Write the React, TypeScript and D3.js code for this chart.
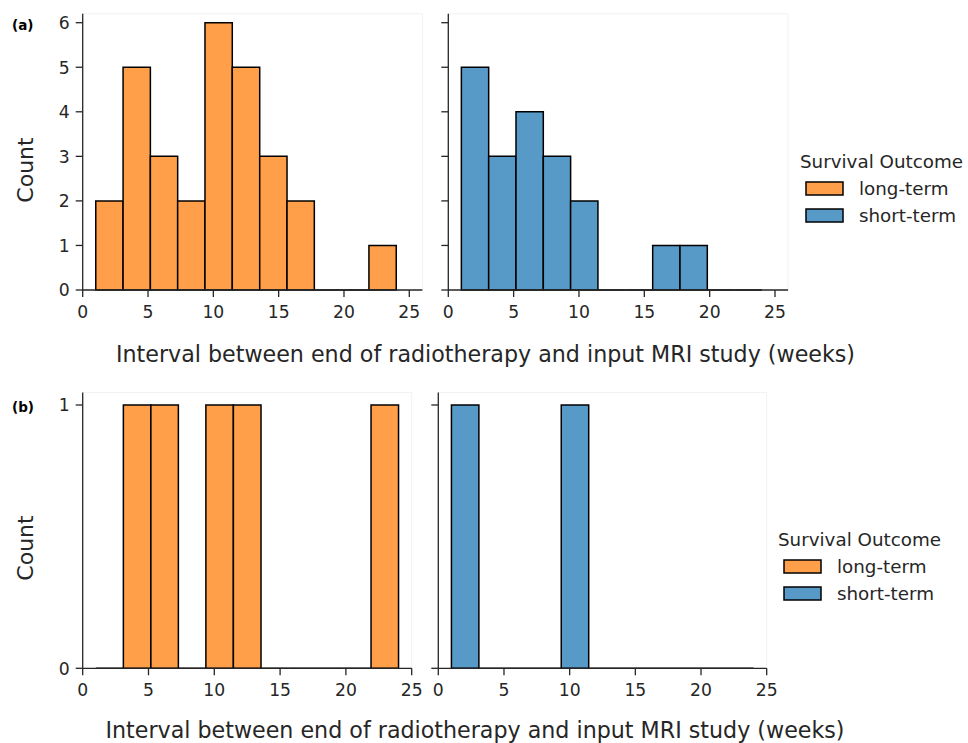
import React from "react";
import * as d3 from "d3";

const binEdges = [1, 3.09, 5.18, 7.27, 9.36, 11.45, 13.55, 15.64, 17.73, 19.82, 21.91, 24];
const countsALong = [2, 5, 3, 2, 6, 5, 3, 2, 0, 0, 1];
const countsAShort = [5, 3, 4, 3, 2, 0, 0, 1, 1, 0, 0];
const countsBLong = [0, 1, 1, 0, 1, 1, 0, 0, 0, 0, 1];
const countsBShort = [1, 0, 0, 0, 1, 0, 0, 0, 0, 0, 0];
const xTicks = [0, 5, 10, 15, 20, 25];
const yTicksA = [0, 1, 2, 3, 4, 5, 6];
const yTicksB = [0, 1];
const seriesNames = ["long-term", "short-term"];
const seriesColors = ["#FF9F4A", "#5799C7"];
const xLabel = "Interval between end of radiotherapy and input MRI study (weeks)";

const FONT = "DejaVu Sans, sans-serif";
const TXT = "#262626";

type PanelProps = {
  counts: number[];
  color: string;
  x0: number;
  x25: number;
  xMax: number;
  y0: number;
  yTopVal: number;
  yTopPx: number;
  yDomMax: number;
  yTicks: number[];
  showYLabels: boolean;
};

function Panel(p: PanelProps) {
  const x = d3.scaleLinear().domain([0, 25]).range([p.x0, p.x25]);
  const y = d3.scaleLinear().domain([0, p.yTopVal]).range([p.y0, p.yTopPx]);
  const spineTop = y(p.yDomMax);
  const spineRight = x(p.xMax);
  return (
    <g>
      <rect x={p.x0} y={spineTop} width={spineRight - p.x0} height={p.y0 - spineTop} fill="none" stroke="#f2f2f2" strokeWidth={1} />
      {p.counts.map((c, i) => {
        const xa = x(binEdges[i]);
        const xb = x(binEdges[i + 1]);
        const yt = y(c);
        return (
          <path key={i} d={`M${xa},${p.y0}V${yt}H${xb}V${p.y0}Z`} fill={p.color} stroke="#000" strokeWidth={1.5} strokeLinejoin="miter" />
        );
      })}
      <line x1={p.x0} x2={p.x0} y1={spineTop} y2={p.y0} stroke={TXT} strokeWidth={1.3} />
      <line x1={p.x0} x2={spineRight} y1={p.y0} y2={p.y0} stroke={TXT} strokeWidth={1.3} />
      {xTicks.map((t) => (
        <g key={"x" + t}>
          <line x1={x(t)} x2={x(t)} y1={p.y0} y2={p.y0 + 7} stroke={TXT} strokeWidth={1.3} />
          <text x={x(t)} y={p.y0 + 27.7} textAnchor="middle" fontSize={17.2} fill={TXT} fontFamily={FONT}>{t}</text>
        </g>
      ))}
      {p.yTicks.map((t) => (
        <g key={"y" + t}>
          <line x1={p.x0 - 7} x2={p.x0} y1={y(t)} y2={y(t)} stroke={TXT} strokeWidth={1.3} />
          {p.showYLabels && (
            <text x={p.x0 - 13} y={y(t) + 6.3} textAnchor="end" fontSize={17.2} fill={TXT} fontFamily={FONT}>{t}</text>
          )}
        </g>
      ))}
    </g>
  );
}

function Legend({ x, y }: { x: number; y: number }) {
  return (
    <g fontFamily={FONT} fill={TXT}>
      <text x={x} y={y} fontSize={18.3}>Survival Outcome</text>
      {seriesNames.map((n, i) => (
        <g key={n}>
          <rect x={x + 6} y={y + 14 + i * 27} width={37} height={13} fill={seriesColors[i]} stroke="#000" strokeWidth={1.5} />
          <text x={x + 59} y={y + 26.5 + i * 27} fontSize={18.3}>{n}</text>
        </g>
      ))}
    </g>
  );
}

export default function App() {
  return (
    <svg width={968} height={743} style={{ position: "absolute", left: 0, top: 0, background: "#fff" }}>
      <rect width={968} height={743} fill="#fff" />
      {/* (a) */}
      <text x={12} y={30} fontSize={13.5} fontWeight="bold" fontFamily={FONT} fill="#000">(a)</text>
      <Panel counts={countsALong} color={seriesColors[0]} x0={82.7} x25={409.3} xMax={26} y0={290} yTopVal={6} yTopPx={22.7} yDomMax={6.2} yTicks={yTicksA} showYLabels={true} />
      <Panel counts={countsAShort} color={seriesColors[1]} x0={448.3} x25={775} xMax={26} y0={290} yTopVal={6} yTopPx={22.7} yDomMax={6.2} yTicks={yTicksA} showYLabels={false} />
      <text transform="translate(33,170) rotate(-90)" textAnchor="middle" fontSize={22} fontFamily={FONT} fill={TXT}>Count</text>
      <text x={485.5} y={361.5} textAnchor="middle" fontSize={22.2} fontFamily={FONT} fill={TXT}>{xLabel}</text>
      <Legend x={800} y={168} />
      {/* (b) */}
      <text x={12} y={412} fontSize={13.5} fontWeight="bold" fontFamily={FONT} fill="#000">(b)</text>
      <Panel counts={countsBLong} color={seriesColors[0]} x0={82.7} x25={411.7} xMax={25} y0={668.3} yTopVal={1} yTopPx={405} yDomMax={1.047} yTicks={yTicksB} showYLabels={true} />
      <Panel counts={countsBShort} color={seriesColors[1]} x0={438.3} x25={766.7} xMax={25} y0={668.3} yTopVal={1} yTopPx={405} yDomMax={1.047} yTicks={yTicksB} showYLabels={false} />
      <text transform="translate(33,548) rotate(-90)" textAnchor="middle" fontSize={22} fontFamily={FONT} fill={TXT}>Count</text>
      <text x={475} y={738} textAnchor="middle" fontSize={22.2} fontFamily={FONT} fill={TXT}>{xLabel}</text>
      <Legend x={778} y={546} />
    </svg>
  );
}
